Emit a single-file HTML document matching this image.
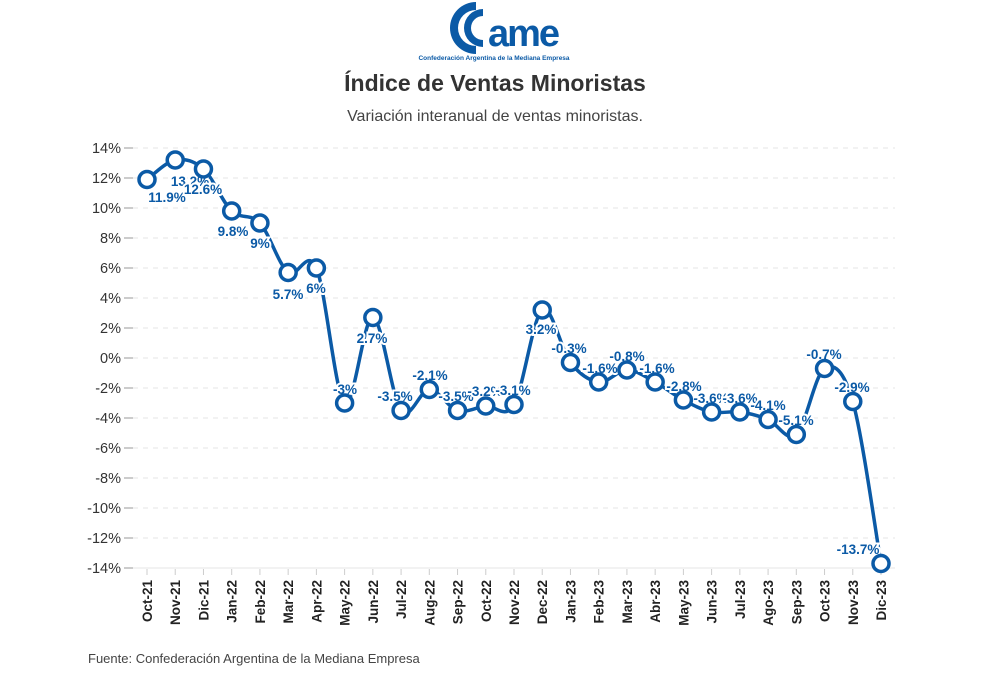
<!DOCTYPE html>
<html><head><meta charset="utf-8"><style>
body{margin:0;background:#fff;width:990px;height:692px;overflow:hidden}
svg{display:block;font-family:"Liberation Sans",sans-serif}
</style></head><body>
<svg id="s" width="990" height="692" viewBox="0 0 990 692">
<g fill="#0b5aa6">
<path d="M476 2 A26 26 0 1 0 476 54 L476 46 A18 18 0 1 1 476 10 Z"/>
<path d="M483 9 A19 19 0 1 0 483 47 L483 40 A12 12 0 1 1 483 16 Z"/>
<text x="488" y="46" font-size="38" font-weight="bold" letter-spacing="-2">ame</text>
<text x="494" y="60" font-size="6.5" text-anchor="middle" font-weight="bold">Confederación Argentina de la Mediana Empresa</text>
</g>
<text x="495" y="91" font-size="23" font-weight="bold" fill="#333" text-anchor="middle">Índice de Ventas Minoristas</text>
<text x="495" y="121" font-size="16" fill="#444" text-anchor="middle">Variación interanual de ventas minoristas.</text>
<text x="88" y="663" font-size="13" fill="#444">Fuente: Confederación Argentina de la Mediana Empresa</text>
<g id="g"></g>
</svg>
<script>
var v=[11.9,13.2,12.6,9.8,9,5.7,6,-3,2.7,-3.5,-2.1,-3.5,-3.2,-3.1,3.2,-0.3,-1.6,-0.8,-1.6,-2.8,-3.6,-3.6,-4.1,-5.1,-0.7,-2.9,-13.7];
var m=["Oct-21","Nov-21","Dic-21","Jan-22","Feb-22","Mar-22","Apr-22","May-22","Jun-22","Jul-22","Aug-22","Sep-22","Oct-22","Nov-22","Dec-22","Jan-23","Feb-23","Mar-23","Abr-23","May-23","Jun-23","Jul-23","Ago-23","Sep-23","Oct-23","Nov-23","Dic-23"];
var lp=[[167,197],[190,181],[203,189],[233,231],[260,243],[288,294],[316,288],[345,389],[372,338],[395,396],[430,375],[456,396],[485,391],[513,390],[541,329],[569,348],[600,368],[627,356],[657,368],[684,386],[711,398],[740,398],[768,405],[796,420],[824,354],[852,387],[858,549]];
var X=i=>147+i*734/26,Y=x=>358-15*x,h='',C='#0b5aa6';
for(var t=14;t>=-14;t-=2){var y=Y(t);h+=`<line x1="133" x2="895" y1="${y}" y2="${y}" stroke="#e6e6e6" stroke-dasharray="5,5"/><line x1="124" x2="133" y1="${y}" y2="${y}" stroke="#ccc" stroke-width="2"/><text x="121" y="${y+5}" font-size="14.5" fill="#333" text-anchor="end">${t}%</text>`;}
h+=`<line x1="133" x2="895" y1="568" y2="568" stroke="#e6e6e6"/>`;
var p=v.map((a,i)=>[X(i),Y(a)]),d='M'+p[0];
for(var i=0;i<p.length-1;i++){var a=p[i-1]||p[i],b=p[i],c=p[i+1],e=p[i+2]||c,k=6;
d+=`C${b[0]+(c[0]-a[0])/k},${b[1]+(c[1]-a[1])/k} ${c[0]-(e[0]-b[0])/k},${c[1]-(e[1]-b[1])/k} ${c[0]},${c[1]}`;}
h+=`<path d="${d}" fill="none" stroke="${C}" stroke-width="3.5"/>`;
p.forEach((q,i)=>{h+=`<line x1="${q[0]}" x2="${q[0]}" y1="569" y2="575" stroke="#ccc"/><text transform="translate(${q[0]+5},580) rotate(-90)" font-size="13.5" font-weight="bold" fill="#222" text-anchor="end">${m[i]}</text>`;});
lp.forEach((q,i)=>{h+=`<text x="${q[0]}" y="${q[1]+5}" font-size="13.5" font-weight="bold" fill="${C}" text-anchor="middle" stroke="#fff" stroke-width="4" paint-order="stroke">${v[i]}%</text>`;});
p.forEach(q=>{h+=`<circle cx="${q[0]}" cy="${q[1]}" r="8" fill="#fff" stroke="${C}" stroke-width="3.5"/>`;});
document.getElementById('g').innerHTML=h;
</script>
</body></html>
